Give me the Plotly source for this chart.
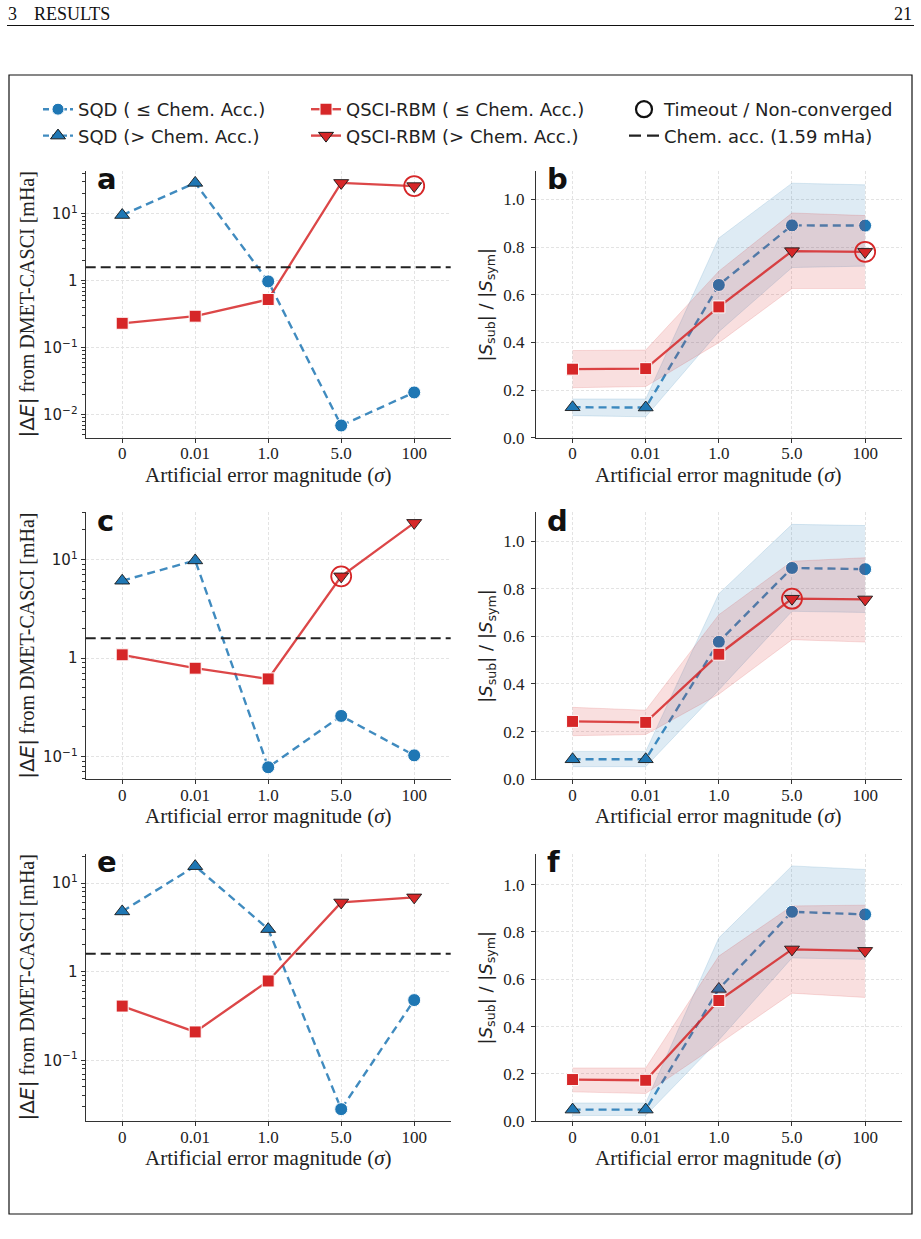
import plotly.graph_objects as go

W, H = 921, 1239

categories = ["0", "0.01", "1.0", "5.0", "100"]
CHEM_ACC = 1.59  # mHa

# ---------------- Energy errors |dE| (mHa) ----------------
sqd_err_a = [9.6, 29.0, 0.98, 0.0069, 0.0215]
qsci_err_a = [0.232, 0.296, 0.526, 29.0, 26.0]
qsci_timeout_a = [0, 0, 0, 0, 1]

sqd_err_c = [6.1, 9.8, 0.078, 0.259, 0.103]
qsci_err_c = [1.08, 0.79, 0.615, 6.76, 23.6]
qsci_timeout_c = [0, 0, 0, 1, 0]

sqd_err_e = [4.78, 15.5, 3.02, 0.0281, 0.478]
qsci_err_e = [0.409, 0.209, 0.785, 6.04, 6.89]
qsci_timeout_e = [0, 0, 0, 0, 0]

# ---------------- Subspace ratios |S_sub|/|S_sym| ----------------
sqd_ratio_b = [0.128, 0.127, 0.641, 0.891, 0.890]
sqd_lo_b = [0.093, 0.088, 0.445, 0.714, 0.720]
sqd_hi_b = [0.163, 0.163, 0.838, 1.068, 1.061]
qsci_ratio_b = [0.288, 0.290, 0.549, 0.783, 0.780]
qsci_lo_b = [0.210, 0.215, 0.399, 0.626, 0.626]
qsci_hi_b = [0.366, 0.368, 0.699, 0.943, 0.932]

sqd_ratio_d = [0.084, 0.084, 0.577, 0.887, 0.882]
sqd_lo_d = [0.053, 0.053, 0.375, 0.705, 0.700]
sqd_hi_d = [0.117, 0.117, 0.779, 1.070, 1.065]
qsci_ratio_d = [0.243, 0.239, 0.525, 0.758, 0.755]
qsci_lo_d = [0.183, 0.188, 0.357, 0.586, 0.576]
qsci_hi_d = [0.302, 0.290, 0.691, 0.915, 0.930]

sqd_ratio_f = [0.049, 0.049, 0.559, 0.885, 0.874]
sqd_lo_f = [0.024, 0.024, 0.343, 0.690, 0.684]
sqd_hi_f = [0.077, 0.077, 0.775, 1.079, 1.064]
qsci_ratio_f = [0.176, 0.173, 0.510, 0.726, 0.720]
qsci_lo_f = [0.124, 0.117, 0.327, 0.541, 0.523]
qsci_hi_f = [0.225, 0.225, 0.698, 0.910, 0.913]

log_tickvals = [0.01, 0.1, 1, 10]
log_ticktext = ["10<sup>\u22122</sup>", "10<sup>\u22121</sup>", "1", "10<sup>1</sup>"]
lin_tickvals = [0.0, 0.2, 0.4, 0.6, 0.8, 1.0]
lin_ticktext = ["0.0", "0.2", "0.4", "0.6", "0.8", "1.0"]

# ---------------- styling ----------------
BLUE = "#1f77b4"
BLUE_LINE = "rgba(31,119,180,0.85)"
RED = "#d62728"
RED_LINE = "rgba(214,39,40,0.85)"
EDGE = "#1a1a1a"
SERIF = "Liberation Serif"
SANS = "DejaVu Sans"
AXC = "#333333"

def px_x(p):
    return p / W

def px_y(p):
    return 1 - p / H

col_x = [(85.7, 450.7), (536.0, 901.7)]
row_y = [(171.0, 437.8), (512.2, 779.3), (853.6, 1121.2)]

fig = go.Figure()

def axnames(i):
    s = "" if i == 1 else str(i)
    return "x" + s, "y" + s, "xaxis" + s, "yaxis" + s

def sqd_style(errs):
    sym = ["triangle-up" if v > CHEM_ACC else "circle" for v in errs]
    size = [13 if s == "triangle-up" else 13 for s in sym]
    lc = [EDGE if s == "triangle-up" else "white" for s in sym]
    lw = [0.9 if s == "triangle-up" else 1.0 for s in sym]
    return dict(symbol=sym, size=size, color=BLUE, opacity=1, line=dict(color=lc, width=lw))

def qsci_style(errs):
    sym = ["triangle-down" if v > CHEM_ACC else "square" for v in errs]
    size = [13 if s == "triangle-down" else 12 for s in sym]
    lc = [EDGE if s == "triangle-down" else "white" for s in sym]
    lw = [0.9 if s == "triangle-down" else 1.0 for s in sym]
    return dict(symbol=sym, size=size, color=RED, opacity=1, line=dict(color=lc, width=lw))

def add_timeout(xa, ya, yvals, flags):
    xs = [c for c, f in zip(categories, flags) if f]
    ys = [v for v, f in zip(yvals, flags) if f]
    if xs:
        fig.add_trace(go.Scatter(x=xs, y=ys, mode="markers", xaxis=xa, yaxis=ya,
                                 marker=dict(symbol="circle-open", size=20, color=RED, opacity=1,
                                             line=dict(width=1.8, color=RED)),
                                 showlegend=False, hoverinfo="skip"))

energy_panels = [
    (1, sqd_err_a, qsci_err_a, qsci_timeout_a, [-2.345, 1.64]),
    (3, sqd_err_c, qsci_err_c, qsci_timeout_c, [-1.23, 1.481]),
    (5, sqd_err_e, qsci_err_e, qsci_timeout_e, [-1.687, 1.332]),
]
ratio_panels = [
    (2, sqd_ratio_b, sqd_lo_b, sqd_hi_b, qsci_ratio_b, qsci_lo_b, qsci_hi_b, sqd_err_a, qsci_err_a, qsci_timeout_a, [0, 1.119]),
    (4, sqd_ratio_d, sqd_lo_d, sqd_hi_d, qsci_ratio_d, qsci_lo_d, qsci_hi_d, sqd_err_c, qsci_err_c, qsci_timeout_c, [0, 1.121]),
    (6, sqd_ratio_f, sqd_lo_f, sqd_hi_f, qsci_ratio_f, qsci_lo_f, qsci_hi_f, sqd_err_e, qsci_err_e, qsci_timeout_e, [0, 1.131]),
]

layout_axes = {}
grid = dict(showgrid=True, gridcolor="#e3e3e3", gridwidth=0.7, griddash="3px,2px")

def base_x(i, domain):
    return dict(domain=domain, type="category", range=[-0.5, 4.5], showline=True, linecolor=AXC,
                linewidth=1.2, ticks="outside", ticklen=4, tickwidth=1, tickcolor=AXC,
                ticklabelstandoff=-4,
                tickfont=dict(family=SERIF, size=17, color="#222"), zeroline=False,
                automargin=False, anchor="y" + ("" if i == 1 else str(i)), **grid)

SQD_LINE = dict(color=BLUE_LINE, width=2.4, dash="8px,5px")
QSCI_LINE = dict(color=RED_LINE, width=2.3)

for (i, sqd, qsci, tmo, yr) in energy_panels:
    xa, ya, xk, yk = axnames(i)
    r = (i - 1) // 2
    fig.add_trace(go.Scatter(x=categories, y=sqd, mode="lines+markers", xaxis=xa, yaxis=ya,
                             line=SQD_LINE, marker=sqd_style(sqd), showlegend=False))
    fig.add_trace(go.Scatter(x=categories, y=qsci, mode="lines+markers", xaxis=xa, yaxis=ya,
                             line=QSCI_LINE, marker=qsci_style(qsci), showlegend=False))
    add_timeout(xa, ya, qsci, tmo)
    fig.add_shape(type="line", xref=xa + " domain", x0=0, x1=1, yref=ya, y0=CHEM_ACC, y1=CHEM_ACC,
                  line=dict(color="#222", width=2.0, dash="10px,5px"), layer="above")
    layout_axes[xk] = base_x(i, [px_x(col_x[0][0]), px_x(col_x[0][1])])
    layout_axes[yk] = dict(domain=[px_y(row_y[r][1]), px_y(row_y[r][0])], type="log", range=yr,
                           tickmode="array", tickvals=log_tickvals, ticktext=log_ticktext,
                           showline=True, linecolor=AXC, linewidth=1.2, ticks="outside", ticklen=4,
                           tickwidth=1, tickcolor=AXC, tickfont=dict(family=SANS, size=15, color="#222"),
                           minor=dict(ticks="outside", ticklen=2.5, tickwidth=0.8, tickcolor=AXC,
                                      dtick="D1", showgrid=False),
                           zeroline=False, automargin=False, anchor=xa, **grid)

for (i, sr, slo, shi, qr, qlo, qhi, serr, qerr, tmo, yr) in ratio_panels:
    xa, ya, xk, yk = axnames(i)
    r = (i - 2) // 2
    fig.add_trace(go.Scatter(x=categories, y=shi, mode="lines", xaxis=xa, yaxis=ya,
                             line=dict(color="rgba(31,119,180,0.18)", width=0.8),
                             showlegend=False, hoverinfo="skip"))
    fig.add_trace(go.Scatter(x=categories, y=slo, mode="lines", xaxis=xa, yaxis=ya, fill="tonexty",
                             fillcolor="rgba(31,119,180,0.15)",
                             line=dict(color="rgba(31,119,180,0.18)", width=0.8),
                             showlegend=False, hoverinfo="skip"))
    fig.add_trace(go.Scatter(x=categories, y=sr, mode="lines+markers", xaxis=xa, yaxis=ya,
                             line=SQD_LINE, marker=sqd_style(serr), showlegend=False))
    fig.add_trace(go.Scatter(x=categories, y=qhi, mode="lines", xaxis=xa, yaxis=ya,
                             line=dict(color="rgba(214,39,40,0.18)", width=0.8),
                             showlegend=False, hoverinfo="skip"))
    fig.add_trace(go.Scatter(x=categories, y=qlo, mode="lines", xaxis=xa, yaxis=ya, fill="tonexty",
                             fillcolor="rgba(214,39,40,0.15)",
                             line=dict(color="rgba(214,39,40,0.18)", width=0.8),
                             showlegend=False, hoverinfo="skip"))
    fig.add_trace(go.Scatter(x=categories, y=qr, mode="lines+markers", xaxis=xa, yaxis=ya,
                             line=QSCI_LINE, marker=qsci_style(qerr), showlegend=False))
    add_timeout(xa, ya, qr, tmo)
    layout_axes[xk] = base_x(i, [px_x(col_x[1][0]), px_x(col_x[1][1])])
    layout_axes[yk] = dict(domain=[px_y(row_y[r][1]), px_y(row_y[r][0])], range=yr,
                           tickmode="array", tickvals=lin_tickvals, ticktext=lin_ticktext,
                           showline=True, linecolor=AXC, linewidth=1.2, ticks="outside", ticklen=4,
                           tickwidth=1, tickcolor=AXC, ticklabelstandoff=3,
                           tickfont=dict(family=SERIF, size=17, color="#222"),
                           zeroline=False, automargin=False, anchor=xa, **grid)

# ---------------- legend (three columns) ----------------
leg_entries = [
    ("legend", "SQD ( \u2264 Chem. Acc.)", dict(mode="lines+markers", line=dict(color=BLUE_LINE, width=2.4, dash="6px,3px"),
                                           marker=dict(symbol="circle", size=12, color=BLUE, line=dict(color="white", width=1)))),
    ("legend", "SQD (> Chem. Acc.)", dict(mode="lines+markers", line=dict(color=BLUE_LINE, width=2.4, dash="6px,3px"),
                                          marker=dict(symbol="triangle-up", size=13, color=BLUE, line=dict(color=EDGE, width=1)))),
    ("legend2", "QSCI-RBM ( \u2264 Chem. Acc.)", dict(mode="lines+markers", line=dict(color=RED_LINE, width=2.4),
                                                 marker=dict(symbol="square", size=12, color=RED, line=dict(color="white", width=1)))),
    ("legend2", "QSCI-RBM (> Chem. Acc.)", dict(mode="lines+markers", line=dict(color=RED_LINE, width=2.4),
                                                marker=dict(symbol="triangle-down", size=13, color=RED, line=dict(color=EDGE, width=1)))),
    ("legend3", "Timeout / Non-converged", dict(mode="markers",
                                                marker=dict(symbol="circle-open", size=16, color="#111", line=dict(color="#111", width=2.2)))),
    ("legend3", "Chem. acc. (1.59 mHa)", dict(mode="lines", line=dict(color="#222", width=2.4, dash="12px,6px"))),
]
for k, (lg, name, style) in enumerate(leg_entries):
    fig.add_trace(go.Scatter(x=[None], y=[None], name=name, legend=lg, legendgroup="g%d" % k,
                             showlegend=True, **style))

leg_common = dict(orientation="v", yanchor="top", xanchor="left", bgcolor="rgba(0,0,0,0)",
                  font=dict(family=SANS, size=18, color="#222"), tracegroupgap=0,
                  itemsizing="trace")
legs = dict(
    legend=dict(x=px_x(38), y=px_y(91), **leg_common),
    legend2=dict(x=px_x(306), y=px_y(91), **leg_common),
    legend3=dict(x=px_x(624), y=px_y(91), **leg_common),
)

# ---------------- annotations ----------------
ann = []
letters = ["a", "b", "c", "d", "e", "f"]
for i, L in enumerate(letters, start=1):
    xa, ya, _, _ = axnames(i)
    ann.append(dict(text="<b>%s</b>" % L, xref=xa + " domain", yref=ya + " domain",
                    x=9 / 365, y=1.04, xanchor="left", yanchor="top", showarrow=False,
                    font=dict(family=SANS, size=29, color="#111")))

xtitle = "Artificial error magnitude (<i>\u03c3</i>)"
ytitle_e = "<span style=\"font-family:DejaVu Sans\">|\u0394<i>E</i>|</span> from DMET-CASCI [mHa]"
ytitle_s = "|<i>S</i><sub>sub</sub>| / |<i>S</i><sub>sym</sub>|"
for r in range(3):
    yc = (row_y[r][0] + row_y[r][1]) / 2
    xt_y = row_y[r][1] + 37
    for c in range(2):
        xc = (col_x[c][0] + col_x[c][1]) / 2
        ann.append(dict(text=xtitle, xref="paper", yref="paper", x=px_x(xc), y=px_y(xt_y),
                        xanchor="center", yanchor="middle", showarrow=False,
                        font=dict(family=SERIF, size=21, color="#222")))
    ann.append(dict(text=ytitle_e, xref="paper", yref="paper", x=px_x(27), y=px_y(yc),
                    xanchor="center", yanchor="middle", textangle=-90, showarrow=False,
                    font=dict(family=SERIF, size=20, color="#222")))
    ann.append(dict(text=ytitle_s, xref="paper", yref="paper", x=px_x(487), y=px_y(yc),
                    xanchor="center", yanchor="middle", textangle=-90, showarrow=False,
                    font=dict(family=SANS, size=18, color="#222")))

# page header
ann.append(dict(text="3", xref="paper", yref="paper", x=px_x(6), y=px_y(14), xanchor="left",
                yanchor="middle", showarrow=False, font=dict(family=SERIF, size=18, color="#111")))
ann.append(dict(text="RESULTS", xref="paper", yref="paper", x=px_x(32), y=px_y(14), xanchor="left",
                yanchor="middle", showarrow=False, font=dict(family=SERIF, size=18, color="#111")))
ann.append(dict(text="21", xref="paper", yref="paper", x=px_x(914), y=px_y(14), xanchor="right",
                yanchor="middle", showarrow=False, font=dict(family=SERIF, size=18, color="#111")))

fig.add_shape(type="line", xref="paper", yref="paper", x0=px_x(7), x1=px_x(914), y0=px_y(25.5), y1=px_y(25.5),
              line=dict(color="#111", width=1))
fig.add_shape(type="rect", xref="paper", yref="paper", x0=px_x(9), x1=px_x(912), y0=px_y(1214), y1=px_y(75),
              line=dict(color="#111", width=1.2))

fig.update_layout(width=W, height=H,
                  margin=dict(l=0, r=0, t=0, b=0, pad=0, autoexpand=False),
                  paper_bgcolor="white", plot_bgcolor="white",
                  annotations=ann, **layout_axes, **legs)

fig.write_html("out.html")
